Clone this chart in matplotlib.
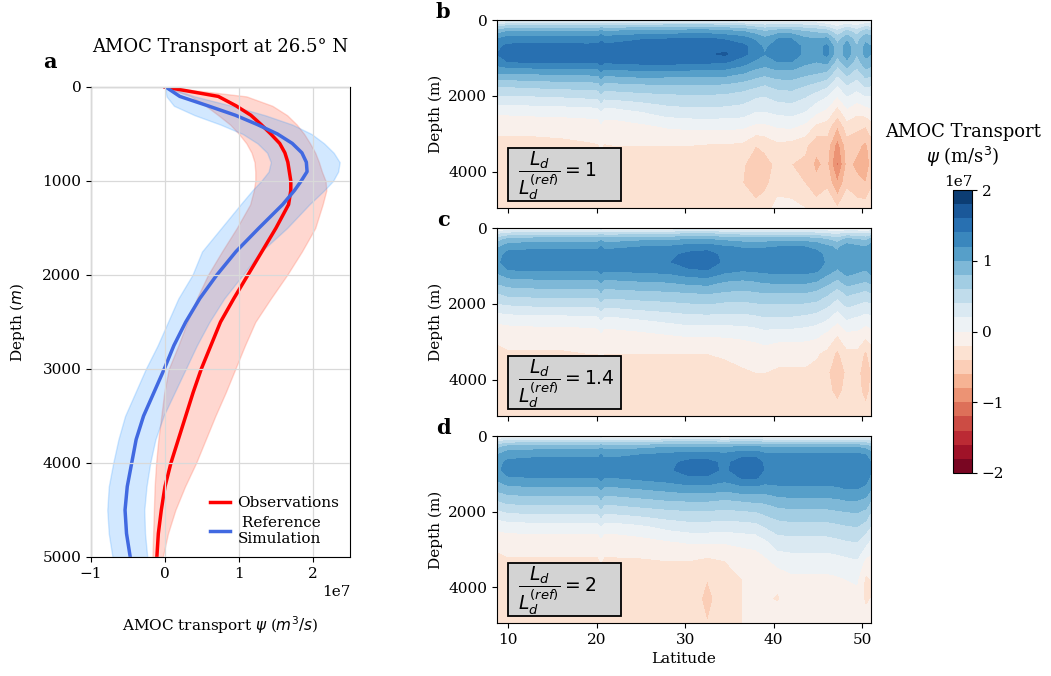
import numpy as np
import matplotlib
matplotlib.use('Agg')
import matplotlib.pyplot as plt
from matplotlib.patches import Rectangle

plt.rcParams['font.family'] = ['DejaVu Serif']
plt.rcParams['mathtext.fontset'] = 'dejavusans'
plt.rcParams['font.size'] = 11

# ---------------- Panel a data (units of 1e7 m^3/s) ----------------
depth_a = [0, 100, 200, 300, 400, 500, 600, 700, 800, 900, 1000, 1100, 1250, 1500,
           1750, 2000, 2250, 2500, 2750, 3000, 3250, 3500, 3750, 4000, 4250, 4500, 4750, 5000]
obs_mean = [0.0, 0.72, 0.96, 1.16, 1.30, 1.43, 1.55, 1.62, 1.66, 1.68, 1.70, 1.70, 1.67, 1.50,
            1.31, 1.12, 0.93, 0.75, 0.62, 0.49, 0.38, 0.28, 0.18, 0.08, 0.0, -0.05, -0.09, -0.11]
obs_hi = [0.02, 1.10, 1.45, 1.65, 1.78, 1.88, 1.96, 2.03, 2.08, 2.12, 2.17, 2.18, 2.13, 2.03,
          1.85, 1.65, 1.43, 1.22, 1.08, 0.95, 0.82, 0.68, 0.55, 0.42, 0.27, 0.14, 0.04, -0.03]
obs_lo = [-0.02, 0.35, 0.55, 0.72, 0.88, 1.0, 1.10, 1.17, 1.21, 1.22, 1.22, 1.20, 1.15, 0.97,
          0.77, 0.58, 0.43, 0.30, 0.18, 0.05, -0.01, -0.05, -0.09, -0.12, -0.14, -0.15, -0.16, -0.17]
sim_mean = [0.01, 0.20, 0.58, 0.95, 1.25, 1.52, 1.72, 1.85, 1.91, 1.92, 1.84, 1.75, 1.59, 1.27,
            0.96, 0.70, 0.47, 0.28, 0.12, -0.01, -0.15, -0.29, -0.39, -0.45, -0.51, -0.54, -0.52, -0.47]
sim_hi = [0.03, 0.40, 0.90, 1.35, 1.72, 1.98, 2.15, 2.28, 2.36, 2.34, 2.27, 2.15, 1.95, 1.65,
          1.30, 1.05, 0.80, 0.60, 0.43, 0.28, 0.13, -0.02, -0.13, -0.20, -0.25, -0.28, -0.27, -0.24]
sim_lo = [0.0, 0.02, 0.12, 0.40, 0.75, 1.05, 1.25, 1.38, 1.43, 1.40, 1.30, 1.18, 1.02, 0.76,
          0.50, 0.37, 0.18, 0.04, -0.10, -0.26, -0.40, -0.54, -0.63, -0.70, -0.76, -0.78, -0.76, -0.71]

# ---------------- Panels b-d data (units of 1e7) ----------------
lat = [8.75, 10, 13, 16, 19, 20.2, 20.5, 20.8, 22, 25, 28, 30.5, 32.5, 34.5, 36.5, 38, 39,
       40.5, 42, 43.5, 44.8, 46, 47.2, 48.3, 49.4, 50.4, 51]
depth_sec = [0, 60, 150, 300, 500, 700, 900, 1100, 1400, 1700, 2000, 2400, 2800, 3300, 3800, 4300, 4950]

# one depth profile per latitude
psi_b = [
    [0, 0.15, 0.50, 0.90, 1.20, 1.35, 1.40, 1.30, 1.00, 0.65, 0.38, 0.05, -0.15, -0.25, -0.30, -0.30, -0.25],
    [0, 0.25, 0.60, 1.00, 1.30, 1.45, 1.50, 1.40, 1.00, 0.65, 0.38, 0.05, -0.15, -0.25, -0.30, -0.30, -0.25],
    [0, 0.25, 0.60, 1.00, 1.30, 1.46, 1.50, 1.42, 1.02, 0.68, 0.40, 0.07, -0.15, -0.25, -0.30, -0.30, -0.27],
    [0, 0.25, 0.60, 1.00, 1.30, 1.46, 1.50, 1.42, 1.05, 0.70, 0.42, 0.08, -0.14, -0.24, -0.28, -0.30, -0.27],
    [0, 0.25, 0.60, 1.00, 1.30, 1.45, 1.50, 1.42, 1.05, 0.72, 0.45, 0.10, -0.12, -0.22, -0.27, -0.30, -0.27],
    [0, 0.25, 0.60, 1.00, 1.30, 1.46, 1.50, 1.43, 1.06, 0.73, 0.46, 0.11, -0.11, -0.21, -0.27, -0.30, -0.27],
    [0, 0.28, 0.66, 1.06, 1.36, 1.51, 1.57, 1.50, 1.14, 0.82, 0.55, 0.19, -0.05, -0.18, -0.25, -0.28, -0.26],
    [0, 0.25, 0.61, 1.01, 1.31, 1.46, 1.51, 1.43, 1.07, 0.74, 0.47, 0.11, -0.10, -0.21, -0.27, -0.30, -0.27],
    [0, 0.25, 0.62, 1.02, 1.32, 1.47, 1.52, 1.44, 1.08, 0.75, 0.48, 0.12, -0.10, -0.20, -0.27, -0.30, -0.27],
    [0, 0.28, 0.66, 1.06, 1.38, 1.53, 1.56, 1.47, 1.12, 0.78, 0.52, 0.20, -0.05, -0.20, -0.28, -0.32, -0.30],
    [0, 0.30, 0.68, 1.08, 1.40, 1.56, 1.58, 1.48, 1.10, 0.80, 0.55, 0.30, 0.02, -0.20, -0.30, -0.35, -0.30],
    [0, 0.30, 0.70, 1.10, 1.42, 1.57, 1.58, 1.46, 1.10, 0.80, 0.57, 0.33, 0.04, -0.20, -0.32, -0.35, -0.30],
    [0, 0.30, 0.70, 1.10, 1.42, 1.56, 1.57, 1.44, 1.10, 0.80, 0.57, 0.33, 0.05, -0.22, -0.35, -0.38, -0.30],
    [0, 0.25, 0.65, 1.05, 1.38, 1.52, 1.63, 1.42, 1.08, 0.78, 0.55, 0.32, 0.05, -0.22, -0.35, -0.38, -0.30],
    [0, 0.22, 0.60, 1.00, 1.30, 1.45, 1.45, 1.30, 1.00, 0.72, 0.50, 0.30, 0.03, -0.25, -0.38, -0.40, -0.30],
    [0, 0.20, 0.50, 0.90, 1.15, 1.30, 1.30, 1.15, 0.90, 0.65, 0.42, 0.20, -0.05, -0.40, -0.50, -0.50, -0.35],
    [0, 0.18, 0.45, 0.80, 1.05, 1.15, 1.20, 1.10, 0.85, 0.60, 0.40, 0.20, -0.05, -0.35, -0.48, -0.45, -0.30],
    [0, 0.20, 0.50, 0.90, 1.20, 1.32, 1.33, 1.20, 0.92, 0.68, 0.48, 0.25, 0.02, -0.25, -0.35, -0.30, -0.12],
    [0, 0.20, 0.50, 0.90, 1.20, 1.33, 1.33, 1.20, 0.92, 0.70, 0.50, 0.27, 0.03, -0.28, -0.40, -0.35, -0.12],
    [0, 0.18, 0.45, 0.80, 1.05, 1.15, 1.15, 1.05, 0.85, 0.62, 0.42, 0.20, -0.05, -0.35, -0.45, -0.40, -0.20],
    [0, 0.15, 0.40, 0.75, 1.00, 1.10, 1.10, 1.00, 0.80, 0.55, 0.30, 0.05, -0.25, -0.55, -0.65, -0.55, -0.30],
    [0, 0.05, 0.30, 0.70, 1.05, 1.25, 1.25, 1.05, 0.75, 0.45, 0.20, -0.05, -0.30, -0.50, -0.55, -0.45, -0.25],
    [0, 0.00, 0.15, 0.45, 0.70, 0.85, 0.85, 0.70, 0.45, 0.20, 0.00, -0.30, -0.60, -0.90, -1.05, -0.80, -0.40],
    [0, 0.05, 0.30, 0.65, 0.95, 1.10, 1.10, 0.95, 0.65, 0.40, 0.20, -0.05, -0.30, -0.50, -0.55, -0.45, -0.25],
    [0, 0.05, 0.20, 0.50, 0.70, 0.80, 0.80, 0.70, 0.50, 0.30, 0.10, -0.15, -0.35, -0.55, -0.65, -0.55, -0.30],
    [0, 0.10, 0.35, 0.70, 0.95, 1.05, 1.05, 0.95, 0.70, 0.45, 0.20, -0.10, -0.40, -0.65, -0.75, -0.60, -0.30],
    [0, 0.10, 0.30, 0.65, 0.90, 1.00, 1.00, 0.90, 0.65, 0.42, 0.20, -0.05, -0.30, -0.50, -0.55, -0.45, -0.25],
]
psi_c = [
    [0, 0.10, 0.35, 0.70, 0.95, 1.10, 1.15, 1.05, 0.85, 0.60, 0.38, 0.05, -0.15, -0.25, -0.28, -0.30, -0.25],
    [0, 0.18, 0.45, 0.85, 1.12, 1.27, 1.30, 1.20, 0.92, 0.68, 0.42, 0.08, -0.13, -0.22, -0.27, -0.28, -0.25],
    [0, 0.20, 0.50, 0.90, 1.15, 1.30, 1.33, 1.22, 0.95, 0.70, 0.45, 0.10, -0.12, -0.22, -0.27, -0.28, -0.25],
    [0, 0.20, 0.50, 0.90, 1.15, 1.30, 1.33, 1.22, 0.95, 0.70, 0.45, 0.10, -0.12, -0.22, -0.27, -0.28, -0.25],
    [0, 0.20, 0.50, 0.90, 1.15, 1.30, 1.33, 1.22, 0.95, 0.70, 0.46, 0.12, -0.10, -0.20, -0.25, -0.28, -0.25],
    [0, 0.20, 0.50, 0.90, 1.15, 1.30, 1.33, 1.22, 0.96, 0.71, 0.47, 0.13, -0.09, -0.20, -0.25, -0.28, -0.26],
    [0, 0.23, 0.55, 0.96, 1.21, 1.35, 1.38, 1.29, 1.04, 0.79, 0.55, 0.21, -0.03, -0.17, -0.22, -0.26, -0.25],
    [0, 0.20, 0.50, 0.90, 1.16, 1.31, 1.34, 1.23, 0.97, 0.72, 0.48, 0.14, -0.08, -0.20, -0.25, -0.28, -0.27],
    [0, 0.20, 0.50, 0.90, 1.16, 1.31, 1.34, 1.23, 0.97, 0.72, 0.48, 0.14, -0.08, -0.20, -0.25, -0.28, -0.27],
    [0, 0.22, 0.55, 0.95, 1.20, 1.33, 1.36, 1.26, 1.00, 0.75, 0.52, 0.20, -0.05, -0.20, -0.27, -0.30, -0.30],
    [0, 0.22, 0.55, 0.95, 1.22, 1.35, 1.38, 1.28, 1.02, 0.77, 0.55, 0.25, 0.00, -0.20, -0.28, -0.30, -0.30],
    [0, 0.25, 0.60, 1.00, 1.30, 1.45, 1.48, 1.38, 1.08, 0.80, 0.58, 0.30, 0.03, -0.20, -0.28, -0.30, -0.30],
    [0, 0.25, 0.60, 1.00, 1.32, 1.48, 1.50, 1.40, 1.10, 0.82, 0.60, 0.30, 0.03, -0.20, -0.28, -0.30, -0.30],
    [0, 0.22, 0.55, 0.95, 1.22, 1.34, 1.36, 1.27, 1.00, 0.78, 0.56, 0.30, 0.03, -0.18, -0.25, -0.28, -0.27],
    [0, 0.20, 0.50, 0.90, 1.18, 1.30, 1.32, 1.22, 0.97, 0.75, 0.55, 0.30, 0.05, -0.15, -0.22, -0.25, -0.25],
    [0, 0.20, 0.50, 0.90, 1.18, 1.30, 1.32, 1.24, 1.00, 0.78, 0.58, 0.33, 0.08, -0.12, -0.20, -0.22, -0.20],
    [0, 0.20, 0.50, 0.90, 1.18, 1.31, 1.33, 1.26, 1.03, 0.80, 0.60, 0.36, 0.12, -0.10, -0.20, -0.22, -0.20],
    [0, 0.20, 0.50, 0.92, 1.20, 1.32, 1.34, 1.28, 1.05, 0.80, 0.60, 0.35, 0.10, -0.15, -0.22, -0.22, -0.20],
    [0, 0.20, 0.50, 0.92, 1.20, 1.32, 1.34, 1.28, 1.05, 0.80, 0.60, 0.35, 0.10, -0.15, -0.22, -0.22, -0.20],
    [0, 0.20, 0.50, 0.92, 1.20, 1.32, 1.34, 1.28, 1.05, 0.80, 0.58, 0.32, 0.08, -0.15, -0.22, -0.22, -0.20],
    [0, 0.18, 0.45, 0.88, 1.15, 1.27, 1.30, 1.24, 1.00, 0.75, 0.55, 0.28, 0.05, -0.18, -0.25, -0.25, -0.20],
    [0, 0.15, 0.40, 0.80, 1.05, 1.15, 1.17, 1.10, 0.88, 0.65, 0.45, 0.20, -0.05, -0.25, -0.35, -0.30, -0.20],
    [0, 0.12, 0.35, 0.70, 0.95, 1.05, 1.05, 0.98, 0.75, 0.50, 0.30, 0.05, -0.20, -0.45, -0.60, -0.50, -0.25],
    [0, 0.15, 0.45, 0.85, 1.10, 1.18, 1.18, 1.10, 0.90, 0.65, 0.45, 0.20, -0.05, -0.25, -0.35, -0.30, -0.20],
    [0, 0.15, 0.40, 0.80, 1.05, 1.12, 1.12, 1.05, 0.85, 0.60, 0.40, 0.15, -0.05, -0.25, -0.30, -0.30, -0.20],
    [0, 0.12, 0.38, 0.75, 1.00, 1.10, 1.10, 1.00, 0.80, 0.55, 0.35, 0.10, -0.15, -0.45, -0.60, -0.50, -0.30],
    [0, 0.15, 0.45, 0.85, 1.10, 1.20, 1.20, 1.10, 0.85, 0.60, 0.38, 0.12, -0.10, -0.30, -0.40, -0.35, -0.25],
]
psi_d = [
    [0, 0.10, 0.40, 0.75, 1.00, 1.12, 1.15, 1.05, 0.85, 0.60, 0.35, 0.05, -0.15, -0.25, -0.28, -0.30, -0.25],
    [0, 0.18, 0.50, 0.90, 1.12, 1.25, 1.28, 1.18, 0.92, 0.68, 0.42, 0.08, -0.12, -0.22, -0.27, -0.28, -0.25],
    [0, 0.20, 0.52, 0.92, 1.15, 1.28, 1.30, 1.20, 0.95, 0.70, 0.45, 0.10, -0.12, -0.22, -0.27, -0.28, -0.25],
    [0, 0.20, 0.52, 0.92, 1.15, 1.28, 1.30, 1.20, 0.95, 0.70, 0.45, 0.10, -0.12, -0.22, -0.27, -0.28, -0.25],
    [0, 0.20, 0.52, 0.92, 1.15, 1.28, 1.30, 1.20, 0.95, 0.70, 0.45, 0.10, -0.12, -0.22, -0.27, -0.28, -0.25],
    [0, 0.20, 0.52, 0.92, 1.15, 1.28, 1.30, 1.20, 0.95, 0.70, 0.45, 0.10, -0.12, -0.22, -0.27, -0.28, -0.25],
    [0, 0.23, 0.56, 0.97, 1.20, 1.32, 1.35, 1.26, 1.02, 0.78, 0.53, 0.18, -0.06, -0.19, -0.25, -0.26, -0.24],
    [0, 0.20, 0.52, 0.92, 1.15, 1.28, 1.30, 1.20, 0.95, 0.70, 0.45, 0.10, -0.12, -0.22, -0.27, -0.28, -0.25],
    [0, 0.20, 0.52, 0.92, 1.15, 1.28, 1.30, 1.20, 0.95, 0.70, 0.45, 0.10, -0.12, -0.22, -0.27, -0.28, -0.25],
    [0, 0.22, 0.55, 0.95, 1.20, 1.30, 1.33, 1.25, 1.00, 0.75, 0.50, 0.15, -0.08, -0.22, -0.28, -0.30, -0.28],
    [0, 0.22, 0.58, 1.00, 1.25, 1.35, 1.37, 1.30, 1.05, 0.80, 0.55, 0.25, -0.02, -0.20, -0.28, -0.30, -0.30],
    [0, 0.25, 0.60, 1.02, 1.30, 1.45, 1.47, 1.38, 1.10, 0.82, 0.58, 0.30, 0.02, -0.20, -0.30, -0.30, -0.30],
    [0, 0.25, 0.60, 1.02, 1.30, 1.46, 1.47, 1.38, 1.10, 0.82, 0.58, 0.30, 0.02, -0.25, -0.40, -0.45, -0.40],
    [0, 0.22, 0.55, 1.00, 1.25, 1.35, 1.36, 1.28, 1.05, 0.78, 0.55, 0.28, 0.02, -0.20, -0.30, -0.30, -0.30],
    [0, 0.25, 0.62, 1.05, 1.35, 1.50, 1.52, 1.42, 1.12, 0.82, 0.58, 0.30, 0.05, -0.12, -0.20, -0.20, -0.20],
    [0, 0.25, 0.62, 1.05, 1.35, 1.50, 1.52, 1.42, 1.12, 0.85, 0.60, 0.32, 0.07, -0.10, -0.18, -0.18, -0.15],
    [0, 0.22, 0.55, 1.00, 1.25, 1.36, 1.38, 1.32, 1.10, 0.85, 0.65, 0.40, 0.15, -0.05, -0.15, -0.18, -0.15],
    [0, 0.20, 0.55, 1.00, 1.25, 1.33, 1.35, 1.30, 1.15, 0.92, 0.72, 0.50, 0.30, 0.08, -0.15, -0.22, -0.10],
    [0, 0.20, 0.55, 1.00, 1.25, 1.33, 1.35, 1.30, 1.15, 0.95, 0.75, 0.52, 0.32, 0.10, -0.05, -0.08, -0.05],
    [0, 0.20, 0.55, 1.00, 1.25, 1.33, 1.35, 1.30, 1.15, 0.95, 0.75, 0.52, 0.32, 0.10, -0.05, -0.08, -0.05],
    [0, 0.20, 0.55, 1.00, 1.25, 1.33, 1.35, 1.30, 1.15, 0.95, 0.75, 0.52, 0.32, 0.10, -0.05, -0.08, -0.05],
    [0, 0.20, 0.55, 1.00, 1.25, 1.33, 1.35, 1.30, 1.15, 0.95, 0.75, 0.52, 0.32, 0.10, -0.05, -0.08, -0.05],
    [0, 0.20, 0.55, 1.00, 1.25, 1.33, 1.35, 1.30, 1.17, 0.97, 0.78, 0.55, 0.35, 0.12, -0.03, -0.08, -0.05],
    [0, 0.20, 0.55, 1.00, 1.25, 1.34, 1.36, 1.32, 1.20, 1.00, 0.80, 0.58, 0.38, 0.15, 0.00, -0.06, -0.05],
    [0, 0.20, 0.55, 1.00, 1.25, 1.34, 1.36, 1.32, 1.20, 1.00, 0.82, 0.60, 0.40, 0.18, 0.02, -0.05, -0.05],
    [0, 0.18, 0.50, 0.95, 1.20, 1.30, 1.32, 1.28, 1.15, 0.95, 0.75, 0.50, 0.25, -0.05, -0.25, -0.25, -0.10],
    [0, 0.15, 0.45, 0.85, 1.10, 1.20, 1.22, 1.15, 1.00, 0.80, 0.60, 0.38, 0.15, -0.08, -0.20, -0.20, -0.10],
]
ratios = ['1', '1.4', '2']
panel_letters = ['b', 'c', 'd']
cbar_ticks = [-2, -1, 0, 1, 2]

SCALE = 1e7
W, H = 1051, 676


def rect(l, t, r, b):
    return [l / W, 1 - b / H, (r - l) / W, (b - t) / H]


fig = plt.figure(figsize=(W / 100, H / 100), dpi=100)

# ---------------- Panel a ----------------
axa = fig.add_axes(rect(91, 87, 350, 557))
da = np.array(depth_a)
axa.fill_betweenx(da, np.array(obs_lo) * SCALE, np.array(obs_hi) * SCALE,
                  color='tomato', alpha=0.25)
axa.fill_betweenx(da, np.array(sim_lo) * SCALE, np.array(sim_hi) * SCALE,
                  color='dodgerblue', alpha=0.2)
axa.plot(np.array(obs_mean) * SCALE, da, color='red', lw=2.5, label='Observations')
axa.plot(np.array(sim_mean) * SCALE, da, color='royalblue', lw=2.5,
         label=' Reference\nSimulation')
axa.set_xlim(-1e7, 2.5e7)
axa.set_ylim(5000, 0)
axa.set_xticks([-1e7, 0, 1e7, 2e7])
axa.set_yticks([0, 1000, 2000, 3000, 4000, 5000])
axa.grid(True, color='#d9d9d9', lw=0.9)
axa.set_axisbelow(False)
axa.set_xlabel(r'AMOC transport $\psi$ ($m^3/s$)', labelpad=24)
axa.set_ylabel(r'Depth ($m$)', labelpad=11)
axa.legend(loc='lower right', frameon=False, handlelength=1.3, handletextpad=0.5,
           borderaxespad=0.3, labelspacing=0.4)
fig.text(220.5 / W, 1 - 47 / H, 'AMOC Transport at 26.5° N', ha='center', va='center',
         fontsize=13)
fig.text(50 / W, 1 - 62 / H, 'a', ha='center', va='center', fontsize=15, fontweight='bold')

# ---------------- Panels b-d ----------------
levels = np.linspace(-2e7, 2e7, 21)
tops = [(20, 208), (228, 416), (436, 623)]
fields = [psi_b, psi_c, psi_d]
lat_arr = np.array(lat)
dep_arr = np.array(depth_sec)
axes = []
for (t, b), field, ratio, letter in zip(tops, fields, ratios, panel_letters):
    ax = fig.add_axes(rect(497, t, 871, b))
    Z = np.array(field).T * SCALE
    cf = ax.contourf(lat_arr, dep_arr, Z, levels=levels, cmap='RdBu')
    ax.set_xlim(lat[0], lat[-1])
    ax.set_ylim(depth_sec[-1], 0)
    ax.set_xticks([10, 20, 30, 40, 50])
    ax.set_yticks([0, 2000, 4000])
    ax.set_ylabel('Depth (m)')
    ax.add_patch(Rectangle((0.029, 0.038), 0.302, 0.283, transform=ax.transAxes,
                           facecolor='lightgray', edgecolor='black', lw=1.3, zorder=5))
    ax.text(0.056, 0.172, r'$\dfrac{L_d}{L_d^{(ref)}} = ' + ratio + '$', transform=ax.transAxes,
            fontsize=13.5, ha='left', va='center', zorder=6)
    fig.text(443 / W, 1 - (t - 8) / H, letter, ha='center', va='center', fontsize=15,
             fontweight='bold')
    axes.append(ax)
axes[0].tick_params(labelbottom=False)
axes[1].tick_params(labelbottom=False)
axes[2].set_xlabel('Latitude')

# ---------------- Colorbar ----------------
cax = fig.add_axes(rect(953, 190, 972, 473))
cb = fig.colorbar(cf, cax=cax, ticks=[v * SCALE for v in cbar_ticks])
fig.text(963 / W, 1 - 146 / H, 'AMOC Transport\n$\\psi$ (m/s$^3$)', ha='center', va='center',
         fontsize=13, multialignment='center', linespacing=1.25)

fig.savefig('out.png', dpi=100)
